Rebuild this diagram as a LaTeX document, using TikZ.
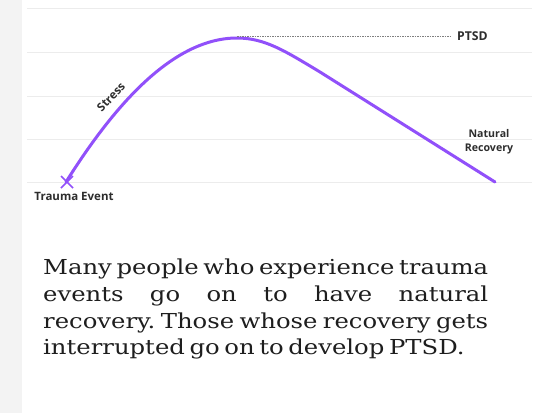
\documentclass[tikz,border=0pt]{standalone}
\usepackage{fontspec}
\setmainfont{DejaVu Serif}
\newfontfamily\labelfont{Open Sans}
\newfontfamily\parafont[FakeStretch=1.18,WordSpace=0.6]{DejaVu Serif}
\definecolor{curvecol}{RGB}{145,80,250}
\definecolor{gridcol}{RGB}{236,236,236}
\definecolor{stripcol}{RGB}{243,243,243}
\definecolor{labcol}{RGB}{45,45,45}
\definecolor{bodycol}{RGB}{30,30,30}
\tikzset{
  gridline/.style={draw=gridcol, line width=1pt},
  lab/.style={font=\labelfont\bfseries\fontsize{11.5}{12}\selectfont, text=labcol, inner sep=0pt},
  stresscurve/.style={draw=curvecol, line width=3pt, line cap=round},
  dashline/.style={draw=gray, line width=0.6pt, dash pattern=on 1.5pt off 1pt},
}
\begin{document}
\begin{tikzpicture}[x=1pt,y=-1pt]
\useasboundingbox (0,0) rectangle (540,413);
\fill[white] (0,0) rectangle (540,413);
\fill[stripcol] (0,0) rectangle (21.5,413);
% grid
\foreach \yy in {8,52,96,139,182} {\draw[gridline] (27,\yy) -- (532,\yy);}
% named points
\coordinate (start) at (66,182);
\coordinate (peak) at (237,38);
\coordinate (bend) at (320,72);
\coordinate (finish) at (495,182);
\coordinate (dashstart) at (237,36);
\coordinate (dashend) at (452,36);
% curve
\draw[stresscurve] (start) .. controls (110,112) and (170,38) .. (peak)
   .. controls (265,38) and (285,51) .. (bend) -- (finish);
% X marker
\draw[curvecol, line width=1.6pt] (61,176) -- (73,188) (61,188) -- (73,176);
% dashed line
\draw[dashline] (dashstart) -- (dashend);
\node[lab, anchor=west, font=\labelfont\bfseries\fontsize{12.2}{13}\selectfont] (ptsd) at (457,36) {PTSD};
\node[lab] (trauma) at (74,196) {Trauma Event};
\node[lab, rotate=46] (stress) at (111,97) {Stress};
\node[lab, align=center, font=\labelfont\bfseries\fontsize{10.6}{13.5}\selectfont] (natural) at (489,141.5) {Natural\\Recovery};
% paragraph
\node[anchor=north west, inner sep=0pt, text width=445pt, align=justify, text=bodycol,
      font=\parafont\fontsize{20.6}{26.7}\selectfont] (para) at (43,259)
 {\frenchspacing Many people who experience trauma\linebreak events go on to have natural\linebreak recovery. Those whose recovery gets\linebreak interrupted go on to develop PTSD.};
\end{tikzpicture}
\end{document}
